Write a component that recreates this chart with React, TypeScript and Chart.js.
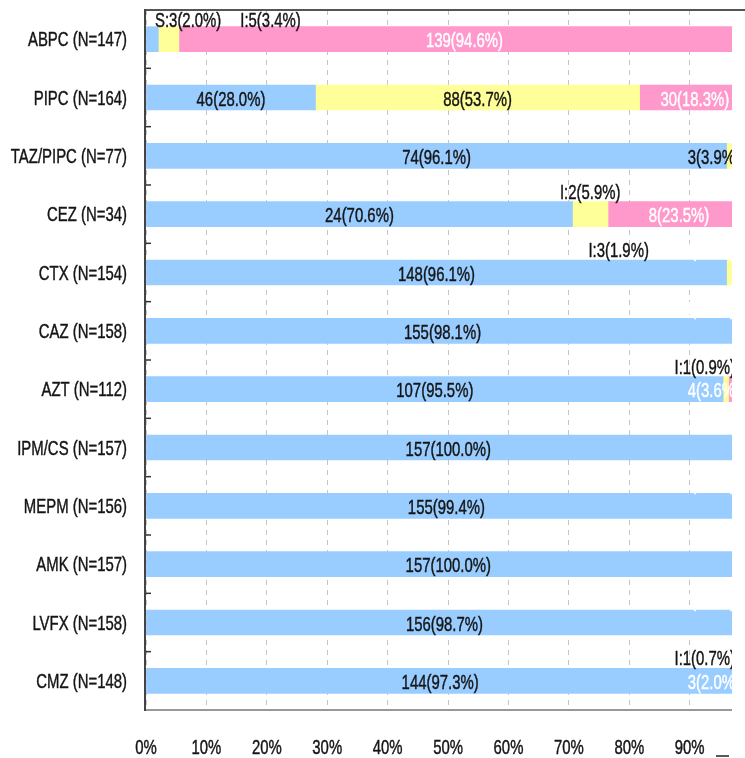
import React, { useEffect, useRef } from 'react';
import { Chart, registerables } from 'chart.js';

Chart.register(...registerables);

// ---- data ----
const drugs = ['ABPC', 'PIPC', 'TAZ/PIPC', 'CEZ', 'CTX', 'CAZ', 'AZT', 'IPM/CS', 'MEPM', 'AMK', 'LVFX', 'CMZ'];
const susceptibleCounts = [3, 46, 74, 24, 148, 155, 107, 157, 155, 157, 156, 144];
const intermediateCounts = [5, 88, 3, 2, 3, 0, 1, 0, 0, 0, 0, 1];
const resistantCounts = [139, 30, 0, 8, 3, 3, 4, 0, 1, 0, 2, 3];
const seriesNames = ['S', 'I', 'R'];
const xTickValues = [0, 10, 20, 30, 40, 50, 60, 70, 80, 90];
const xVisibleMax = 97;

// ---- styles ----
const seriesColors = ['#99CCFF', '#FFFF99', '#FF99CC'];
const seriesTextColors = ['#151515', '#151515', '#ffffff'];
const TEXT = '#151515';
const FONT_SIZE = 21;
const SX = 0.71;
const FONT = `${FONT_SIZE}px "Liberation Sans", Arial, sans-serif`;

const seriesCounts = [susceptibleCounts, intermediateCounts, resistantCounts];
const totals = drugs.map((_, i) => susceptibleCounts[i] + intermediateCounts[i] + resistantCounts[i]);
const categoryLabels = drugs.map((d, i) => `${d} (N=${totals[i]})`);
const pctOf = (c: number, i: number) => (c / totals[i]) * 100;

function measure(ctx: CanvasRenderingContext2D, s: string) {
  ctx.save();
  ctx.font = FONT;
  const w = ctx.measureText(s).width * SX;
  ctx.restore();
  return w;
}

function txt(ctx: CanvasRenderingContext2D, s: string, x: number, y: number, align: CanvasTextAlign, color: string) {
  ctx.save();
  ctx.font = FONT;
  ctx.fillStyle = color;
  ctx.strokeStyle = color;
  ctx.lineWidth = 0.45;
  ctx.textBaseline = 'alphabetic';
  ctx.textAlign = align;
  ctx.translate(x, y);
  ctx.scale(SX, 1);
  ctx.fillText(s, 0, 0);
  ctx.strokeText(s, 0, 0);
  ctx.restore();
}

function line(ctx: CanvasRenderingContext2D, x1: number, y1: number, x2: number, y2: number) {
  ctx.beginPath();
  ctx.moveTo(x1, y1);
  ctx.lineTo(x2, y2);
  ctx.stroke();
}

const overlayPlugin = {
  id: 'overlay',
  afterDraw(chart: any) {
    const ctx: CanvasRenderingContext2D = chart.ctx;
    const ca = chart.chartArea;
    const xs = chart.scales.x;
    const ys = chart.scales.y;

    ctx.save();
    ctx.lineCap = 'butt';
    // bottom axis
    ctx.strokeStyle = '#999999';
    ctx.lineWidth = 2;
    line(ctx, ca.left - 1, ca.bottom, ca.right, ca.bottom);
    // top border
    ctx.strokeStyle = '#555555';
    line(ctx, ca.left - 1, ca.top, chart.width, ca.top);
    // left axis
    ctx.strokeStyle = '#444444';
    line(ctx, ca.left - 1, ca.top - 1, ca.left - 1, ca.bottom + 1);
    // category boundary ticks
    ctx.strokeStyle = '#333333';
    ctx.lineWidth = 1.5;
    for (let i = 0; i < drugs.length - 1; i++) {
      const yb = (ys.getPixelForValue(i) + ys.getPixelForValue(i + 1)) / 2;
      line(ctx, ca.left, yb, ca.left + 5, yb);
    }
    // small mark at bottom right
    ctx.strokeStyle = '#222222';
    ctx.lineWidth = 1.5;
    line(ctx, 716, 756, 729, 756);
    ctx.restore();

    // y labels
    categoryLabels.forEach((lab, i) => {
      txt(ctx, lab, ca.left - 19, ys.getPixelForValue(i) + 7, 'right', TEXT);
    });
    // x labels
    xs.ticks.forEach((t: any) => {
      txt(ctx, `${t.value}%`, xs.getPixelForValue(t.value), 754, 'center', TEXT);
    });

    // segment labels
    ctx.save();
    ctx.beginPath();
    ctx.rect(ca.left, 0, ca.right - ca.left, chart.height);
    ctx.clip();
    const limInside = ca.right + 8;
    const limAbove = ca.right + 3;
    const GAP = 19;
    for (let i = 0; i < drugs.length; i++) {
      const segs: any[] = [];
      for (let d = 0; d < 3; d++) {
        const count = seriesCounts[d][i];
        if (count <= 0) continue;
        const el: any = chart.getDatasetMeta(d).data[i];
        segs.push({
          d,
          count,
          pct: pctOf(count, i),
          start: Math.min(el.x, el.base),
          end: Math.max(el.x, el.base),
          y: el.y,
          h: el.height,
        });
      }
      const above: any[] = [];
      segs.forEach((s, k) => {
        const inside = s.pct >= 10 || (k === segs.length - 1 && s.pct >= 2);
        const pctStr = s.pct.toFixed(1);
        if (inside) {
          const text = `${s.count}(${pctStr}%)`;
          const w = measure(ctx, text);
          let cx = (s.start + s.end) / 2;
          if (cx + w / 2 > limInside) cx = limInside - w / 2;
          txt(ctx, text, cx, s.y + 8, 'center', seriesTextColors[s.d]);
        } else {
          const text = `${seriesNames[s.d]}:${s.count}(${pctStr}%)`;
          const w = measure(ctx, text);
          const baseY = Math.max(s.y - s.h / 2 - 3, ca.top + 17);
          above.push({ text, w, left: (s.start + s.end) / 2 - w / 2, y: baseY, d: s.d });
        }
      });
      let minLeft = ca.left + 9;
      above.forEach((a) => {
        if (a.left < minLeft) a.left = minLeft;
        minLeft = a.left + a.w + GAP;
      });
      let maxRight = limAbove;
      for (let k = above.length - 1; k >= 0; k--) {
        const a = above[k];
        if (a.left + a.w > maxRight) a.left = maxRight - a.w;
        maxRight = a.left - GAP;
      }
      above.forEach((a) => txt(ctx, a.text, a.left, a.y, 'left', seriesTextColors[a.d]));
    }
    ctx.restore();
  },
};

export default function App() {
  const ref = useRef<HTMLCanvasElement | null>(null);
  useEffect(() => {
    if (!ref.current) return;
    const chart = new Chart(ref.current, {
      type: 'bar',
      data: {
        labels: categoryLabels,
        datasets: seriesNames.map((name, d) => ({
          label: name,
          data: seriesCounts[d].map((c, i) => pctOf(c, i)),
          backgroundColor: seriesColors[d],
          borderWidth: 0,
          barThickness: 25,
        })),
      },
      options: {
        indexAxis: 'y',
        animation: false,
        responsive: false,
        devicePixelRatio: 1,
        layout: { padding: { left: 0, right: 13, top: 10, bottom: 0 } },
        plugins: { legend: { display: false }, tooltip: { enabled: false }, title: { display: false } },
        scales: {
          x: {
            type: 'linear',
            stacked: true,
            min: 0,
            max: xVisibleMax,
            ticks: { display: false, stepSize: 10 },
            afterBuildTicks: (s: any) => {
              s.ticks = xTickValues.map((v) => ({ value: v }));
            },
            afterFit: (s: any) => {
              s.height = 48;
            },
            grid: { color: '#c4c4c4', lineWidth: 1, drawTicks: false },
            border: { display: false, dash: [5, 5] },
          },
          y: {
            type: 'category',
            stacked: true,
            offset: true,
            ticks: { display: false },
            afterFit: (s: any) => {
              s.width = 146;
            },
            grid: { display: false, drawTicks: false },
            border: { display: false },
          },
        },
      },
      plugins: [overlayPlugin],
    } as any);
    return () => chart.destroy();
  }, []);
  return (
    <div style={{ position: 'absolute', left: 0, top: 0, width: 745, height: 758, background: '#ffffff' }}>
      <canvas ref={ref} width={745} height={758} style={{ display: 'block', width: 745, height: 758 }} />
    </div>
  );
}
